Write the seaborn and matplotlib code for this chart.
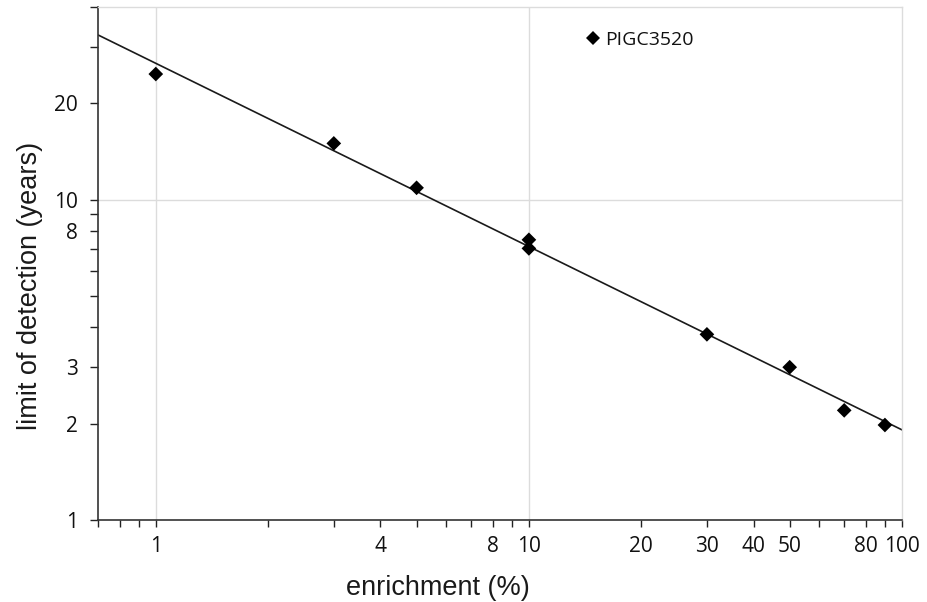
import numpy as np
import pandas as pd
import matplotlib
matplotlib.use("Agg")
import matplotlib.pyplot as plt
import seaborn as sns
from matplotlib.ticker import FixedLocator, FixedFormatter, NullLocator

# ---- data ----
enrichment = [1, 3, 5, 10, 10, 30, 50, 70, 90]
lod_years = [24.7, 15.0, 10.9, 7.5, 7.05, 3.8, 3.0, 2.2, 1.98]
series_name = "PIGC3520"

x_ticks = [0.7, 0.8, 0.9, 1, 2, 3, 4, 5, 6, 7, 8, 9, 10,
           20, 30, 40, 50, 60, 70, 80, 90, 100]
x_tick_labels = {1: "1", 4: "4", 8: "8", 10: "10", 20: "20", 30: "30",
                 40: "40", 50: "50", 80: "80", 100: "100"}
y_ticks = [1, 2, 3, 4, 5, 6, 7, 8, 9, 10, 20, 30, 40]
y_tick_labels = {1: "1", 2: "2", 3: "3", 8: "8", 10: "10", 20: "20"}
grid_x = [1, 10]
grid_y = [10]
x_lim = (0.7, 100)
y_lim = (1, 40)

x_title = "enrichment (%)"
y_title = "limit of detection (years)"

# ---- styling ----
sns.set_style("ticks")
plt.rcParams["font.family"] = ["Open Sans", "DejaVu Sans"]

df = pd.DataFrame({"enrichment": enrichment, "lod": lod_years,
                   "series": [series_name] * len(enrichment)})

# power-law trendline fitted in log-log space (like a spreadsheet trendline)
slope, intercept = np.polyfit(np.log10(df["enrichment"]), np.log10(df["lod"]), 1)
fit_x = np.array(x_lim, dtype=float)
fit_df = pd.DataFrame({"x": fit_x, "y": 10 ** (intercept + slope * np.log10(fit_x))})

fig = plt.figure(figsize=(9.27, 6.02), dpi=100)
ax = fig.add_axes([98 / 927, 82 / 602, 804 / 927, 513 / 602])
ax.set_xscale("log")
ax.set_yscale("log")

grid_col = "#dcdcdc"
for gx in grid_x:
    ax.axvline(gx, color=grid_col, lw=1.0, zorder=0)
for gy in grid_y:
    ax.axhline(gy, color=grid_col, lw=1.0, zorder=0)

sns.lineplot(data=fit_df, x="x", y="y", color="#1a1a1a", linewidth=1.2,
             legend=False, ax=ax, zorder=2)
sns.scatterplot(data=df, x="enrichment", y="lod", hue="series",
                palette=["black"], marker="D", s=56, linewidth=0,
                ax=ax, zorder=3)

ax.set_xlim(*x_lim)
ax.set_ylim(*y_lim)

ax.xaxis.set_major_locator(FixedLocator(x_ticks))
ax.xaxis.set_major_formatter(FixedFormatter([x_tick_labels.get(t, "") for t in x_ticks]))
ax.xaxis.set_minor_locator(NullLocator())
ax.yaxis.set_major_locator(FixedLocator(y_ticks))
ax.yaxis.set_major_formatter(FixedFormatter([y_tick_labels.get(t, "") for t in y_ticks]))
ax.yaxis.set_minor_locator(NullLocator())

ax.tick_params(axis="x", direction="out", length=5.2, width=1.0, color="#222222",
               labelsize=15, labelcolor="#111111", pad=6.5)
ax.tick_params(axis="y", direction="out", length=5.8, width=1.0, color="#222222",
               labelsize=15, labelcolor="#111111", pad=8.5)

for side in ("left", "bottom"):
    ax.spines[side].set_color("#333333")
    ax.spines[side].set_linewidth(1.2)
for side in ("top", "right"):
    ax.spines[side].set_visible(True)
    ax.spines[side].set_color(grid_col)
    ax.spines[side].set_linewidth(1.0)

ax.set_xlabel(x_title, fontsize=19.5, family=["Liberation Sans", "DejaVu Sans"],
              color="#1a1a1a")
ax.set_ylabel(y_title, fontsize=19.5, family=["Liberation Sans", "DejaVu Sans"],
              color="#1a1a1a")
ax.xaxis.set_label_coords(0.423, -0.108)
ax.yaxis.set_label_coords(-0.068, 0.456)

leg = ax.legend(loc="center left", bbox_to_anchor=(0.606, 0.9357), frameon=False,
                fontsize=14, borderpad=0, borderaxespad=0, handlelength=0.8,
                handletextpad=0.2, markerscale=1.0)
for t in leg.get_texts():
    t.set_color("#111111")

fig.savefig("out.png", dpi=100, facecolor="white")
